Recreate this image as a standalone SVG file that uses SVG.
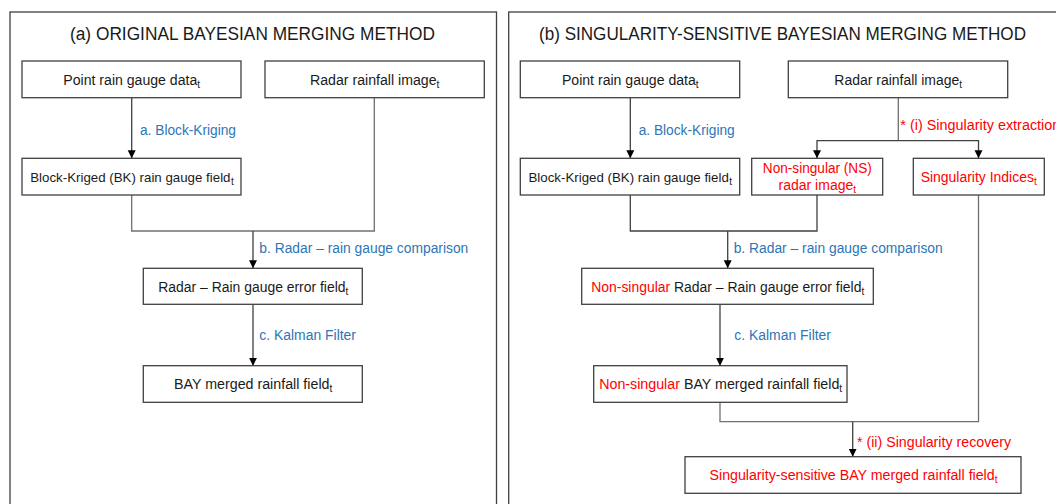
<svg xmlns="http://www.w3.org/2000/svg" width="1056" height="504" viewBox="0 0 1056 504">
<defs>
<marker id="ah" viewBox="0 0 8 10" refX="8" refY="5" markerWidth="8" markerHeight="10" markerUnits="userSpaceOnUse" orient="auto">
<path d="M0,1 L8,5 L0,9 Z" fill="#000"/>
</marker>
</defs>
<style>
.panel{fill:#fff;stroke:#404040;stroke-width:1.3}
.box{fill:#fff;stroke:#404040;stroke-width:1.3}
.t{font-family:"Liberation Sans",Arial,sans-serif;font-size:14px;fill:#1a1a1a;text-anchor:middle}
.ttl{font-family:"Liberation Sans",Arial,sans-serif;font-size:18px;fill:#1a1a1a}
.lb{font-family:"Liberation Sans",Arial,sans-serif;font-size:14px;fill:#2E75B6}
.rl{font-family:"Liberation Sans",Arial,sans-serif;font-size:14px;fill:#FF0000}
.red{fill:#FF0000}
.sub{font-size:10px}
.sm{font-size:13.3px}
.c{fill:none;stroke:#404040;stroke-width:1.3}
.g{stroke:#707070}
.ca{fill:none;stroke:#404040;stroke-width:1.3;marker-end:url(#ah)}
</style>
<rect width="1056" height="504" fill="#fff"/>
<g id="panel-a">
<rect class="panel" x="10" y="12" width="486.5" height="500"/>
<text class="ttl" x="70" y="40" textLength="365" lengthAdjust="spacingAndGlyphs">(a) ORIGINAL BAYESIAN MERGING METHOD</text>
</g>
<g id="panel-b">
<rect class="panel" x="508.7" y="12" width="560" height="500"/>
<text class="ttl" x="539" y="40" textLength="487" lengthAdjust="spacingAndGlyphs">(b) SINGULARITY-SENSITIVE BAYESIAN MERGING METHOD</text>
</g>
<g id="connectors">
<!-- panel a -->
<line class="ca" x1="131.7" y1="98" x2="131.7" y2="158.3"/>
<polyline class="c g" points="131.7,195 131.7,231 374.3,231 374.3,98"/>
<line class="ca g" x1="253" y1="231" x2="253" y2="268.3"/>
<line class="ca g" x1="253" y1="304.3" x2="253" y2="365.7"/>
<!-- panel b -->
<line class="ca" x1="630.3" y1="97.7" x2="630.3" y2="158.3"/>
<line class="c g" x1="898.3" y1="97.7" x2="898.3" y2="140.7"/>
<polyline class="ca" points="898.3,140.7 817,140.7 817,158.3"/>
<polyline class="ca" points="898.3,140.7 978.5,140.7 978.5,158.3"/>
<polyline class="c" points="630.3,195 630.3,231 817,231 817,195"/>
<line class="ca" x1="727.7" y1="231" x2="727.7" y2="268.3"/>
<line class="ca" x1="720" y1="304.3" x2="720" y2="365.7"/>
<polyline class="c g" points="720,402.3 720,421.7 978.5,421.7 978.5,195"/>
<line class="ca" x1="852.7" y1="421.7" x2="852.7" y2="456.7"/>
<text class="lb" x="140" y="135" textLength="96" lengthAdjust="spacingAndGlyphs">a. Block-Kriging</text>
<text class="lb" x="259.3" y="253" textLength="209" lengthAdjust="spacingAndGlyphs">b. Radar – rain gauge comparison</text>
<text class="lb" x="259.3" y="340" textLength="96.7" lengthAdjust="spacingAndGlyphs">c. Kalman Filter</text>
<text class="lb" x="638.7" y="135" textLength="96" lengthAdjust="spacingAndGlyphs">a. Block-Kriging</text>
<text class="lb" x="733.7" y="253" textLength="209" lengthAdjust="spacingAndGlyphs">b. Radar – rain gauge comparison</text>
<text class="lb" x="734.3" y="340" textLength="96.7" lengthAdjust="spacingAndGlyphs">c. Kalman Filter</text>
<text class="rl" x="900.3" y="130" textLength="160" lengthAdjust="spacingAndGlyphs">* (i) Singularity extraction</text>
<text class="rl" x="857" y="446.5" textLength="154" lengthAdjust="spacingAndGlyphs">* (ii) Singularity recovery</text>
</g>
<g id="a-point">
<rect class="box" x="22" y="61" width="219" height="36.7"/>
<text class="t" x="131.7" y="84.5" textLength="136.7" lengthAdjust="spacingAndGlyphs">Point rain gauge data<tspan class="sub" dy="3">t</tspan></text>
</g>
<g id="a-radar">
<rect class="box" x="265" y="61" width="219.3" height="36.7"/>
<text class="t" x="374.7" y="84.5" textLength="129.3" lengthAdjust="spacingAndGlyphs">Radar rainfall image<tspan class="sub" dy="3">t</tspan></text>
</g>
<g id="a-bk">
<rect class="box" x="22" y="158.3" width="219" height="36.7"/>
<text class="t sm" x="132" y="182">Block-Kriged (BK) rain gauge field<tspan class="sub" dx="0.5" dy="3">t</tspan></text>
</g>
<g id="a-error">
<rect class="box" x="143.3" y="268.3" width="219" height="36"/>
<text class="t" x="253.3" y="291.5" textLength="190" lengthAdjust="spacingAndGlyphs">Radar – Rain gauge error field<tspan class="sub" dy="3">t</tspan></text>
</g>
<g id="a-bay">
<rect class="box" x="143.3" y="365.7" width="219" height="36.6"/>
<text class="t" x="253.2" y="389" textLength="158.3" lengthAdjust="spacingAndGlyphs">BAY merged rainfall field<tspan class="sub" dy="3">t</tspan></text>
</g>
<g id="b-point">
<rect class="box" x="520.3" y="61" width="219.4" height="36.7"/>
<text class="t" x="630.3" y="84.5" textLength="136.7" lengthAdjust="spacingAndGlyphs">Point rain gauge data<tspan class="sub" dy="3">t</tspan></text>
</g>
<g id="b-radar">
<rect class="box" x="788.3" y="61" width="219.4" height="36.7"/>
<text class="t" x="898.2" y="84.5" textLength="127.7" lengthAdjust="spacingAndGlyphs">Radar rainfall image<tspan class="sub" dy="3">t</tspan></text>
</g>
<g id="b-bk">
<rect class="box" x="520.3" y="158.3" width="219.4" height="36.7"/>
<text class="t sm" x="630.3" y="182">Block-Kriged (BK) rain gauge field<tspan class="sub" dx="0.5" dy="3">t</tspan></text>
</g>
<g id="b-ns">
<rect class="box" x="751.7" y="158.3" width="131" height="36.7"/>
<text class="t red" x="817.3" y="172.7" textLength="109" lengthAdjust="spacingAndGlyphs">Non-singular (NS)</text>
<text class="t red" x="817.3" y="189.5">radar image<tspan class="sub" dy="3">t</tspan></text>
</g>
<g id="b-si">
<rect class="box" x="913.3" y="158.3" width="131" height="36.7"/>
<text class="t red" x="978.7" y="182" textLength="116" lengthAdjust="spacingAndGlyphs">Singularity Indices<tspan class="sub" dy="3">t</tspan></text>
</g>
<g id="b-error">
<rect class="box" x="581.7" y="268.3" width="291.6" height="36"/>
<text class="t" x="727.7" y="291.5" textLength="273" lengthAdjust="spacingAndGlyphs"><tspan class="red">Non-singular</tspan> Radar – Rain gauge error field<tspan class="sub" dy="3">t</tspan></text>
</g>
<g id="b-bay">
<rect class="box" x="593.7" y="365.7" width="253.3" height="36.6"/>
<text class="t" x="720.7" y="389" textLength="243" lengthAdjust="spacingAndGlyphs"><tspan class="red">Non-singular</tspan> BAY merged rainfall field<tspan class="sub" dy="3">t</tspan></text>
</g>
<g id="b-final">
<rect class="box" x="685" y="456.7" width="336" height="36.6"/>
<text class="t red" x="853.5" y="480" textLength="288" lengthAdjust="spacingAndGlyphs">Singularity-sensitive BAY merged rainfall field<tspan class="sub" dy="3">t</tspan></text>
</g>
</svg>
